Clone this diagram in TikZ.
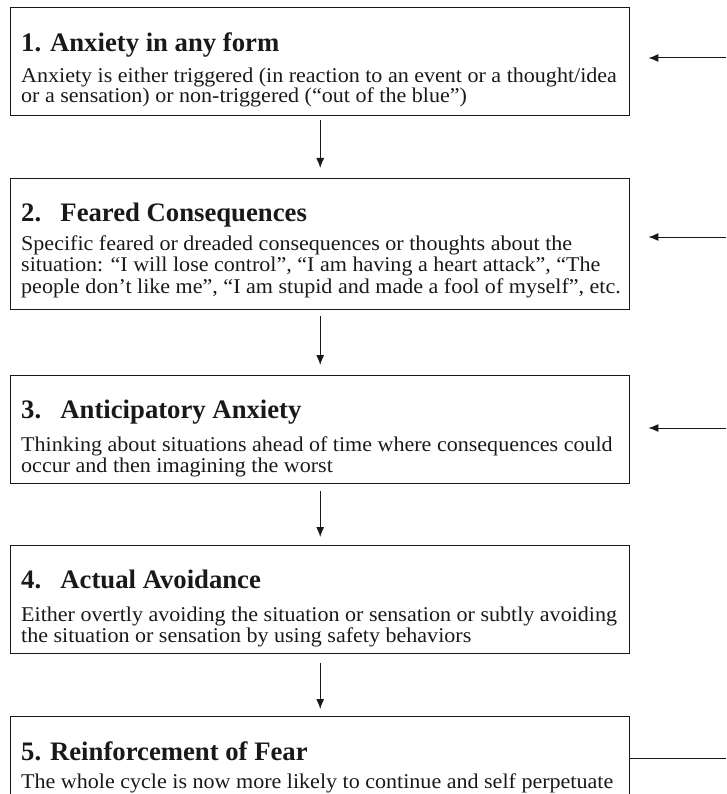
\documentclass[tikz,border=0pt]{standalone}
\usepackage{fontspec}
\setmainfont{Liberation Serif}
\newfontfamily\bodyfont[FakeStretch=1.05]{Liberation Serif}
\usetikzlibrary{arrows.meta}
\definecolor{inkGray}{RGB}{25,25,25}
\newcommand{\numgap}{\hspace{0.72em}}

\begin{document}
\begin{tikzpicture}[x=1pt, y=-1pt,
    stepbox/.style={draw=inkGray, line width=1.4pt, minimum width=619pt, inner sep=0pt, anchor=north west},
    heading/.style={anchor=base west, inner sep=0pt, text=inkGray, font=\bfseries\fontsize{26.7}{30}\selectfont},
    body/.style={anchor=base west, inner sep=0pt, align=left, text=inkGray, font=\bodyfont\fontsize{21}{20.5}\selectfont},
    flow/.style={draw=inkGray, line width=1pt, -{Latex[length=10pt,width=8pt]}}]
  \useasboundingbox (0,0) rectangle (726,794);
  \clip (0,0) rectangle (726,794);

  % the five steps
  \node[stepbox, minimum height=108pt] (anxiety) at (10,7) {};
  \node[stepbox, minimum height=131pt] (fears) at (10,178) {};
  \node[stepbox, minimum height=108pt] (anticipate) at (10,375) {};
  \node[stepbox, minimum height=108pt] (avoid) at (10,545) {};
  \node[stepbox, minimum height=130pt] (reinforce) at (10,716) {};

  % titles and texts (text nodes sit on their last line)
  \node[heading] (anxietyTitle) at ([shift={(11pt,-45pt)}]anxiety.north west) {1. Anxiety in any form};
  \node[body] (anxietyText) at ([shift={(11pt,-96pt)}]anxiety.north west)
    {Anxiety is either triggered (in reaction to an event or a thought/idea\\or a sensation) or non-triggered (“out of the blue”)};

  \node[heading] (fearsTitle) at ([shift={(11pt,-44pt)}]fears.north west) {2.\numgap Feared Consequences};
  \node[body, font=\bodyfont\fontsize{21}{21.5}\selectfont] (fearsText) at ([shift={(11pt,-115pt)}]fears.north west)
    {Specific feared or dreaded consequences or thoughts about the\\situation: “I will lose control”, “I am having a heart attack”, “The\\people don’t like me”, “I am stupid and made a fool of myself”, etc.};

  \node[heading] (anticipateTitle) at ([shift={(11pt,-43pt)}]anticipate.north west) {3.\numgap Anticipatory Anxiety};
  \node[body] (anticipateText) at ([shift={(11pt,-97pt)}]anticipate.north west)
    {Thinking about situations ahead of time where consequences could\\occur and then imagining the worst};

  \node[heading] (avoidTitle) at ([shift={(11pt,-43pt)}]avoid.north west) {4.\numgap Actual Avoidance};
  \node[body] (avoidText) at ([shift={(11pt,-97pt)}]avoid.north west)
    {Either overtly avoiding the situation or sensation or subtly avoiding\\the situation or sensation by using safety behaviors};

  \node[heading] (reinforceTitle) at ([shift={(11pt,-44pt)}]reinforce.north west) {5. Reinforcement of Fear};
  \node[body] (reinforceText) at ([shift={(11pt,-72pt)}]reinforce.north west)
    {The whole cycle is now more likely to continue and self perpetuate};

  % down the chain
  \draw[flow, shorten <=4pt, shorten >=10pt] (anxiety) -- (fears);
  \draw[flow, shorten <=6pt, shorten >=10pt] (fears) -- (anticipate);
  \draw[flow, shorten <=7pt, shorten >=8pt] (anticipate) -- (avoid);
  \draw[flow, shorten <=9pt, shorten >=7pt] (avoid) -- (reinforce);

  % feedback from the right edge
  \coordinate (backAnxiety) at (726,58);
  \coordinate (backFears) at (726,237);
  \coordinate (backAnticipate) at (726,428);
  \coordinate (backStart) at (726,758);
  \draw[flow, shorten >=18pt] (backAnxiety) -- (anxiety.east |- backAnxiety);
  \draw[flow, shorten >=18pt] (backFears) -- (fears.east |- backFears);
  \draw[flow, shorten >=18pt] (backAnticipate) -- (anticipate.east |- backAnticipate);
  \draw[draw=inkGray, line width=1pt] (reinforce.east |- backStart) -- (backStart);
\end{tikzpicture}
\end{document}
